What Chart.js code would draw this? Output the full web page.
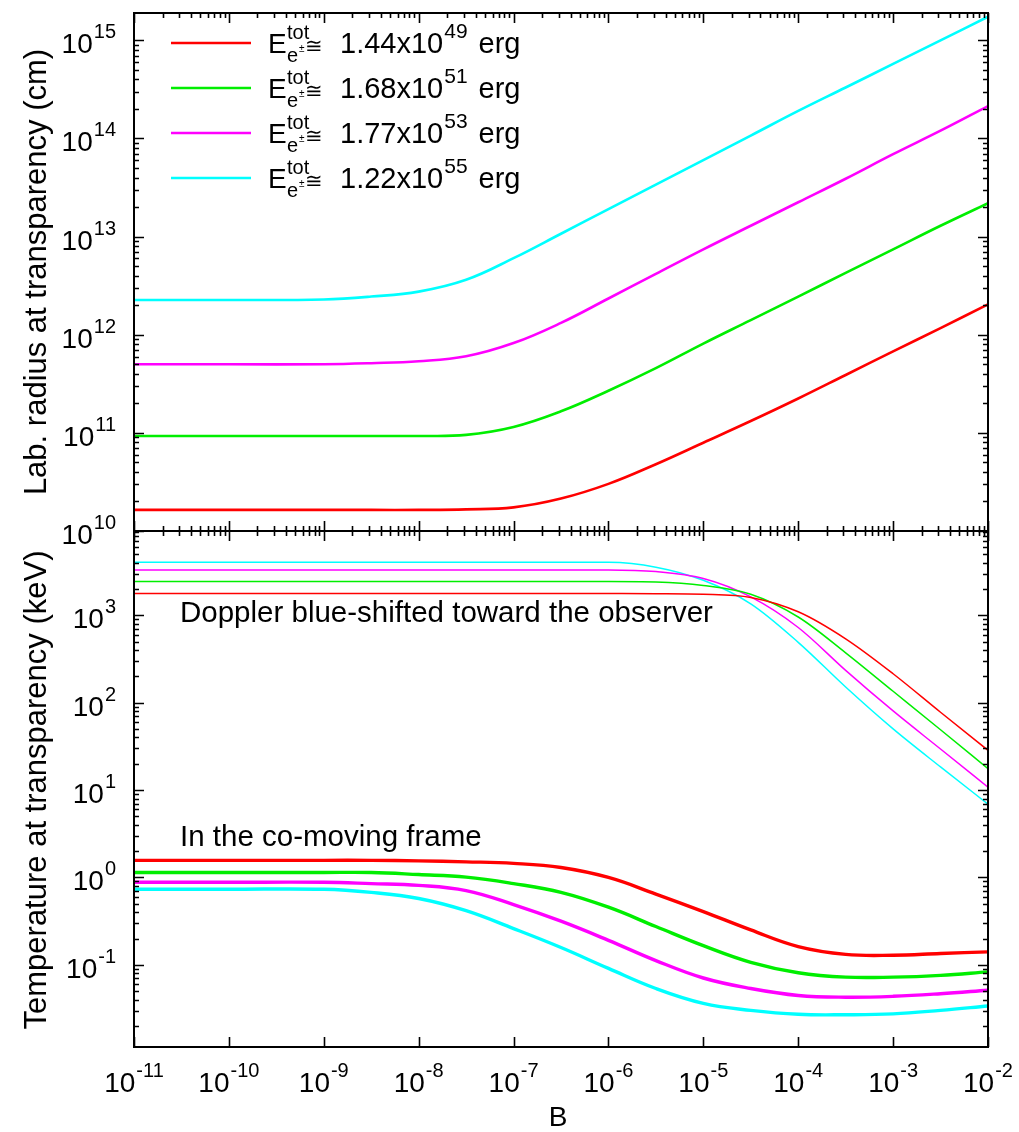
<!DOCTYPE html>
<html>
<head>
<meta charset="utf-8">
<script src="https://cdn.jsdelivr.net/npm/chart.js@4.4.1/dist/chart.umd.min.js"></script>
<style>
  html, body { margin: 0; padding: 0; background: #fff; }
  #wrap { width: 1019px; height: 1132px; position: relative; }
</style>
</head>
<body>
<div id="wrap"><canvas id="chart" width="1019" height="1132"></canvas></div>
<script>
// B values where the curves are sampled
const bField = [1e-11, 1e-10, 1e-9, 3.16e-9, 1e-8, 3.16e-8, 1e-7, 3.16e-7, 1e-6,
  3.16e-6, 1e-5, 3.16e-5, 1e-4, 3.16e-4, 1e-3, 3.16e-3, 1e-2];

// total e+e- energies, one per curve colour
const energyMantissa = ["1.44", "1.68", "1.77", "1.22"];
const energyExponent = ["49", "51", "53", "55"];
const curveColors = ["#ff0000", "#00ee00", "#ff00ff", "#00ffff"];

// lab. radius at transparency (cm)
const radiusRed = [1.64e10, 1.64e10, 1.64e10, 1.64e10, 1.64e10, 1.66e10, 1.74e10, 2.14e10, 3.02e10,
  4.79e10, 7.94e10, 1.32e11, 2.24e11, 3.89e11, 6.76e11, 1.17e12, 2.04e12];
const radiusGreen = [9.3e10, 9.3e10, 9.3e10, 9.3e10, 9.3e10, 9.55e10, 1.15e11, 1.66e11, 2.69e11,
  4.57e11, 8.13e11, 1.41e12, 2.45e12, 4.27e12, 7.41e12, 1.29e13, 2.19e13];
const radiusMagenta = [5.0e11, 5.0e11, 5.0e11, 5.13e11, 5.37e11, 6.03e11, 8.22e11, 1.32e12, 2.34e12,
  4.17e12, 7.41e12, 1.29e13, 2.24e13, 3.89e13, 6.92e13, 1.20e14, 2.14e14];
const radiusCyan = [2.26e12, 2.26e12, 2.29e12, 2.45e12, 2.75e12, 3.63e12, 6.03e12, 1.07e13, 1.91e13,
  3.39e13, 6.03e13, 1.07e14, 1.91e14, 3.31e14, 5.75e14, 1.0e15, 1.74e15];

// temperature at transparency (keV), blue-shifted toward the observer
const dopplerRed = [1770, 1770, 1770, 1770, 1770, 1770, 1770, 1770, 1770,
  1765, 1740, 1600, 1096, 537, 214, 77.6, 28.5];
const dopplerGreen = [2430, 2430, 2430, 2430, 2430, 2430, 2430, 2430, 2430,
  2400, 2190, 1740, 955, 372, 135, 49, 17.6];
const dopplerMagenta = [3300, 3300, 3300, 3300, 3300, 3300, 3300, 3300, 3300,
  3160, 2630, 1620, 724, 234, 80.4, 29.5, 10.8];
const dopplerCyan = [4040, 4040, 4040, 4040, 4040, 4040, 4040, 4040, 4030,
  3550, 2510, 1350, 490, 151, 50.1, 18.4, 6.9];

// temperature at transparency (keV), co-moving frame
const comovingRed = [1.57, 1.57, 1.57, 1.57, 1.55, 1.51, 1.45, 1.30, 1.0,
  0.646, 0.407, 0.251, 0.162, 0.132, 0.129, 0.135, 0.141];
const comovingGreen = [1.14, 1.14, 1.14, 1.14, 1.08, 1.01, 0.851, 0.676, 0.457,
  0.275, 0.166, 0.107, 0.0813, 0.0724, 0.0724, 0.0759, 0.0832];
const comovingMagenta = [0.881, 0.881, 0.881, 0.851, 0.813, 0.708, 0.490, 0.316, 0.191,
  0.112, 0.0708, 0.0537, 0.0447, 0.0427, 0.0437, 0.0468, 0.0513];
const comovingCyan = [0.733, 0.733, 0.733, 0.676, 0.575, 0.417, 0.26, 0.158, 0.0912,
  0.0537, 0.0363, 0.0302, 0.0272, 0.0269, 0.0275, 0.0302, 0.0339];

const FONT = '"Liberation Sans", Arial, Helvetica, sans-serif';

function series(values, color, width, axis, monotone) {
  const ds = {
    data: bField.map((b, i) => ({ x: b, y: values[i] })),
    borderColor: color,
    borderWidth: width,
    pointRadius: 0,
    fill: false,
    tension: 0.4,
    yAxisID: axis,
  };
  // flat plateau into a steep drop: avoid bezier overshoot
  if (monotone) ds.cubicInterpolationMode = "monotone";
  return ds;
}

const radiusSets = [radiusRed, radiusGreen, radiusMagenta, radiusCyan];
const dopplerSets = [dopplerRed, dopplerGreen, dopplerMagenta, dopplerCyan];
const comovingSets = [comovingRed, comovingGreen, comovingMagenta, comovingCyan];

const datasets = [];
radiusSets.forEach((v, i) => datasets.push(series(v, curveColors[i], 2.6, "yTop", false)));
dopplerSets.forEach((v, i) => datasets.push(series(v, curveColors[i], 1.5, "yBot", true)));
comovingSets.forEach((v, i) => datasets.push(series(v, curveColors[i], 3.4, "yBot", false)));

// "10" with a raised exponent
function drawPow(ctx, exp, x, y, align) {
  ctx.font = "28px " + FONT;
  const wb = ctx.measureText("10").width;
  ctx.font = "20px " + FONT;
  const we = ctx.measureText(exp).width;
  const total = wb + we + 1;
  let x0 = x;
  if (align === "right") x0 = x - total;
  if (align === "center") x0 = x - total / 2;
  ctx.textAlign = "left";
  ctx.textBaseline = "alphabetic";
  ctx.font = "28px " + FONT;
  ctx.fillText("10", x0, y);
  ctx.font = "20px " + FONT;
  ctx.fillText(exp, x0 + wb + 1, y - 15);
}

function logTicks(min, max) {
  const out = [];
  for (let d = Math.floor(Math.log10(min)); d <= Math.ceil(Math.log10(max)); d++) {
    for (let m = 1; m <= 9; m++) {
      const v = m * Math.pow(10, d);
      if (v >= min * 0.999 && v <= max * 1.001) out.push({ v: v, major: m === 1, exp: d });
    }
  }
  return out;
}

const framePlugin = {
  id: "frame",
  afterDraw(chart) {
    const ctx = chart.ctx;
    const xs = chart.scales.x;
    const yt = chart.scales.yTop;
    const yb = chart.scales.yBot;
    const L = chart.chartArea.left, R = chart.chartArea.right;
    ctx.save();
    ctx.strokeStyle = "#000";
    ctx.fillStyle = "#000";

    // panel frames
    ctx.lineWidth = 2;
    ctx.strokeRect(L, yt.top, R - L, yt.bottom - yt.top);
    ctx.strokeRect(L, yb.top, R - L, yb.bottom - yb.top);

    ctx.lineWidth = 1.6;
    ctx.beginPath();
    // y ticks on both panels, left and right
    [yt, yb].forEach(s => {
      logTicks(s.min, s.max).forEach(t => {
        const y = Math.round(s.getPixelForValue(t.v)) + 0.5;
        const len = t.major ? 10 : 5;
        ctx.moveTo(L, y); ctx.lineTo(L + len, y);
        ctx.moveTo(R, y); ctx.lineTo(R - len, y);
      });
    });
    // x ticks along panel borders
    logTicks(xs.min, xs.max).forEach(t => {
      const x = Math.round(xs.getPixelForValue(t.v)) + 0.5;
      const len = t.major ? 10 : 5;
      ctx.moveTo(x, yt.top); ctx.lineTo(x, yt.top + len);
      ctx.moveTo(x, yt.bottom); ctx.lineTo(x, yt.bottom - len);
      ctx.moveTo(x, yb.top); ctx.lineTo(x, yb.top + len);
      if (t.major) { ctx.moveTo(x, yb.bottom); ctx.lineTo(x, yb.bottom - len); }
    });
    ctx.stroke();

    // tick labels
    [yt, yb].forEach(s => {
      logTicks(s.min, s.max).filter(t => t.major).forEach(t => {
        drawPow(ctx, String(t.exp), L - 18, s.getPixelForValue(t.v) + 13, "right");
      });
    });
    logTicks(xs.min, xs.max).filter(t => t.major).forEach(t => {
      drawPow(ctx, String(t.exp), xs.getPixelForValue(t.v), 1092, "center");
    });

    // axis titles
    ctx.textAlign = "center";
    ctx.textBaseline = "middle";
    ctx.font = "28px " + FONT;
    ctx.fillText("B", 558, 1118);
    ctx.font = "31px " + FONT;
    [["Lab. radius at transparency (cm)", 272], ["Temperature at transparency (keV)", 790]].forEach(([txt, cy]) => {
      ctx.save();
      ctx.translate(37, cy);
      ctx.rotate(-Math.PI / 2);
      ctx.fillText(txt, 0, 0);
      ctx.restore();
    });

    // panel annotations
    ctx.textAlign = "left";
    ctx.textBaseline = "alphabetic";
    ctx.font = "29.5px " + FONT;
    ctx.fillText("Doppler blue-shifted toward the observer", 180, 622);
    ctx.fillText("In the co-moving frame", 180, 846);

    // legend
    energyMantissa.forEach((m, i) => {
      const ly = 43 + 45 * i;
      ctx.strokeStyle = curveColors[i];
      ctx.lineWidth = 2.6;
      ctx.beginPath();
      ctx.moveTo(171, ly); ctx.lineTo(251, ly);
      ctx.stroke();
      ctx.fillStyle = "#000";
      ctx.font = "28px " + FONT;
      ctx.fillText("E", 268, ly + 10);
      ctx.font = "20px " + FONT;
      ctx.fillText("tot", 287, ly - 4);
      ctx.fillText("e", 287, ly + 19);
      const we = ctx.measureText("e").width;
      ctx.font = "10px " + FONT;
      ctx.fillText("\u00b1", 287 + we + 1, ly + 9);
      ctx.font = "21px " + FONT;
      ctx.fillText("\u2245", 305, ly + 10);
      ctx.font = "29px " + FONT;
      const num = m + "x10";
      ctx.fillText(num, 340, ly + 10);
      const wn = ctx.measureText(num).width;
      ctx.font = "21px " + FONT;
      ctx.fillText(energyExponent[i], 340 + wn + 1, ly - 5);
      const wx = ctx.measureText(energyExponent[i]).width;
      ctx.font = "29px " + FONT;
      ctx.fillText("erg", 340 + wn + wx + 12, ly + 10);
    });
    ctx.restore();
  },
};

const hidden = {
  ticks: { display: false },
  grid: { display: false },
  border: { display: false },
};

new Chart(document.getElementById("chart"), {
  type: "line",
  data: { datasets: datasets },
  options: {
    responsive: false,
    animation: false,
    layout: { padding: { top: 13, right: 31, left: 0, bottom: 0 } },
    plugins: { legend: { display: false }, tooltip: { enabled: false } },
    scales: {
      x: Object.assign({ type: "logarithmic", min: 1e-11, max: 1e-2,
        afterFit: s => { s.height = 85; } }, hidden),
      yBot: Object.assign({ type: "logarithmic", position: "left", stack: "panels", stackWeight: 516,
        min: 0.0115, max: 9200, afterFit: s => { s.width = 134; } }, hidden),
      yTop: Object.assign({ type: "logarithmic", position: "left", stack: "panels", stackWeight: 518,
        min: 1e10, max: 1.9e15, afterFit: s => { s.width = 134; } }, hidden),
    },
  },
  plugins: [framePlugin],
});
</script>
</body>
</html>
